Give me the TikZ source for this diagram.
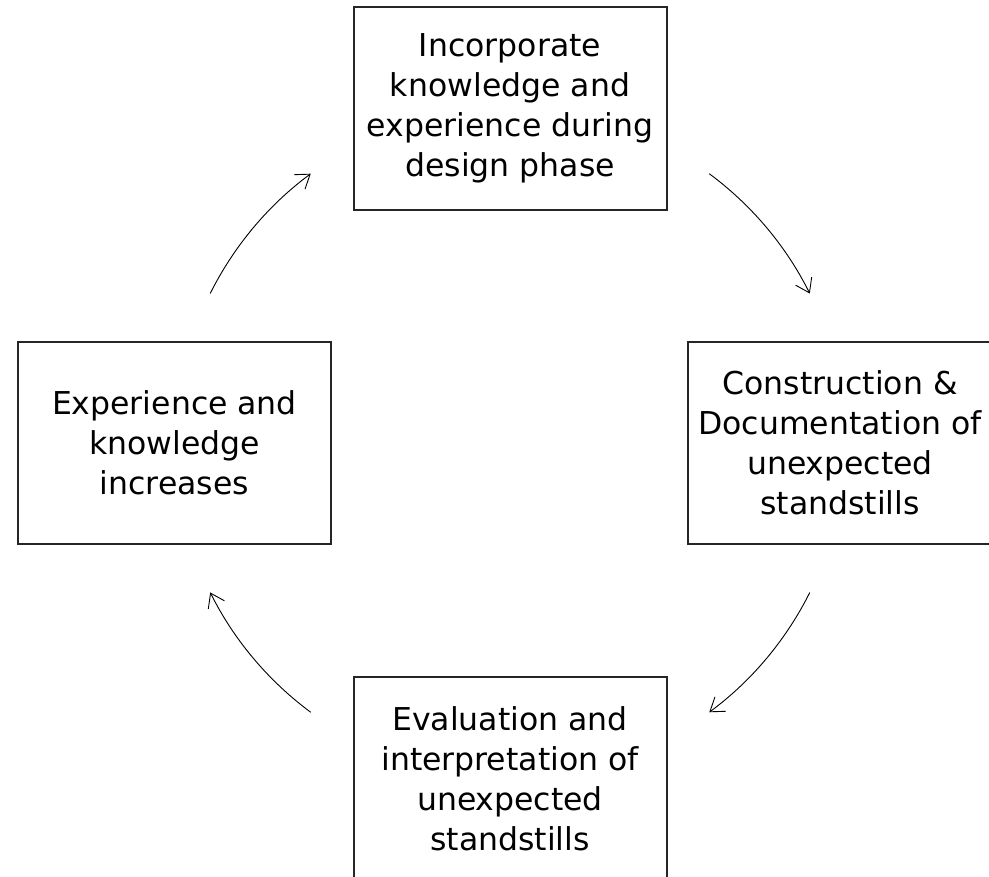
\documentclass[tikz,border=0pt]{standalone}
\usepackage{fontspec}
\setmainfont{DejaVu Sans}
\usetikzlibrary{arrows.meta}

\begin{document}
\begin{tikzpicture}[x=1pt,y=1pt,
    stepbox/.style={draw=black!85,line width=2pt,minimum width=313pt,minimum height=203pt,
        align=center,inner sep=0pt,font=\fontsize{31.5}{40}\selectfont},
    cyc/.style={line width=0.9pt,-{Straight Barb[length=13pt,width=18pt]}}]
    \clip (0,0) rectangle (989,877);
    \useasboundingbox (0,0) rectangle (989,877);
    \node[stepbox] (incorp) at (510,768.5) {Incorporate\\knowledge and\\experience during\\design phase};
    \node[stepbox,minimum width=304pt,minimum height=202pt] (constr) at (840,434) {Construction \&\\Documentation of\\unexpected\\standstills};
    \node[stepbox,minimum height=202pt] (evalu) at (510,98.5) {Evaluation and\\interpretation of\\unexpected\\standstills};
    \node[stepbox,minimum height=202pt] (exper) at (174.5,434) {Experience and\\knowledge\\increases};
    %center of the cycle
    \coordinate (mid) at (510,434);
    \foreach \a in {153.5,53.5,-26.5,-126.5}
        \draw[cyc] ([shift={(\a:335)}]mid) arc[start angle=\a, end angle=\a-27, radius=335];
\end{tikzpicture}
\end{document}
